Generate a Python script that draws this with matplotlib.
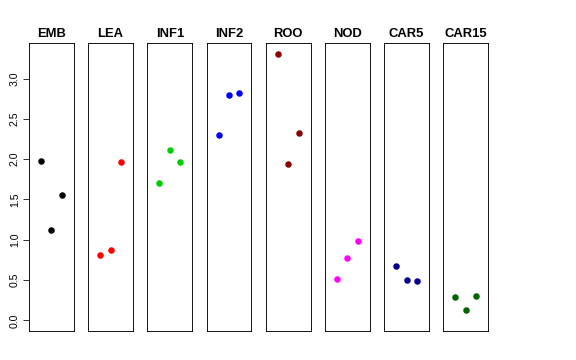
import numpy as np
import matplotlib
matplotlib.use("Agg")
import matplotlib.pyplot as plt

plt.rcParams['font.family'] = ['Liberation Sans', 'DejaVu Sans']

# tissues and their three replicate values
tissues = ["EMB", "LEA", "INF1", "INF2", "ROO", "NOD", "CAR5", "CAR15"]
colors = ["black", "#FF0000", "#00CD00", "#0000FF", "#8B0000", "#FF00FF", "#00008B", "#006400"]
vals = {
    "EMB":   [1.98, 1.12, 1.55],
    "LEA":   [0.81, 0.87, 1.96],
    "INF1":  [1.71, 2.12, 1.96],
    "INF2":  [2.30, 2.80, 2.82],
    "ROO":   [3.31, 1.94, 2.32],
    "NOD":   [0.51, 0.77, 0.99],
    "CAR5":  [0.67, 0.50, 0.49],
    "CAR15": [0.29, 0.13, 0.30],
}
reps = [1, 2, 3]
yticks = [0.0, 0.5, 1.0, 1.5, 2.0, 2.5, 3.0]

ymax = max(max(v) for v in vals.values())
ylo, yhi = 0 - 0.04 * ymax, ymax + 0.04 * ymax

fig = plt.figure(figsize=(8, 5), dpi=72)
W, H = 576.0, 360.0
for i, t in enumerate(tissues):
    left = 29 + 59.2 * i
    ax = fig.add_axes([left / W, (H - 331) / H, 44.8 / W, 288 / H])
    ax.plot(reps, vals[t], 'o', color=colors[i], markersize=6.5, markeredgewidth=0)
    ax.set_xlim(-0.16, 4.16)
    ax.set_ylim(ylo, yhi)
    ax.set_xticks([])
    ax.set_title(t, fontsize=13, fontweight='bold', pad=6)
    for s in ax.spines.values():
        s.set_linewidth(0.9)
    if i == 0:
        ax.set_yticks(yticks)
        ax.set_yticklabels(["%.1f" % v for v in yticks], rotation=90, va='center', fontsize=10.5)
        ax.tick_params(axis='y', length=6, width=0.8, pad=3)
    else:
        ax.set_yticks([])

fig.savefig("out.png", dpi=72)
